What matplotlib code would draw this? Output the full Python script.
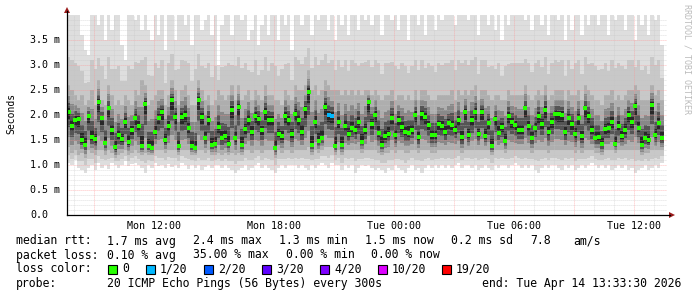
import numpy as np
import matplotlib
matplotlib.use('Agg')
import matplotlib.pyplot as plt
from matplotlib.patches import Rectangle, Polygon
from matplotlib.lines import Line2D

W, H = 697, 297
t0 = 7.65          # hours since Mon 00:00 at the left edge of the plot
step = 1 / 6       # 10 minute columns

median = [2.05, 1.78, 1.9, 1.91, 1.5, 1.41, 1.97, 1.55, 1.51, 2.25, 1.93, 1.45, 2.13, 1.69, 1.35, 1.59, 1.51, 1.86, 1.46, 1.7, 1.93, 1.78, 1.37,
          2.21, 1.38, 1.34, 1.67, 1.94, 2.05, 1.5, 1.78, 2.29, 1.95, 1.37, 1.95, 2.0, 1.73, 1.37, 1.34, 2.3, 1.95, 1.54, 1.9, 1.41, 1.43,
          1.75, 1.54, 1.58, 1.43, 2.1, 1.53, 2.15, 1.41, 1.71, 1.9, 1.67, 1.98, 1.91, 1.69, 2.06, 1.9, 1.89, 1.34, 1.62, 1.57, 1.98, 1.9, 1.62,
          2.02, 1.9, 1.66, 2.11, 2.46, 1.41, 1.85, 1.49, 1.54, 2.15, 1.99, 1.97, 1.38, 1.85, 1.41, 1.78, 1.62, 1.74, 1.69, 1.86, 1.46, 1.69,
          2.26, 1.82, 1.99, 1.65, 1.41, 1.57, 1.63, 1.94, 1.59, 1.9, 1.75, 1.66, 1.65, 1.7, 1.99, 1.55, 2.02, 1.95, 1.79, 1.59, 1.59, 1.81, 1.77,
          1.66, 1.83, 1.79, 1.7, 1.89, 1.55, 2.05, 1.59, 1.89, 2.05, 1.62, 2.05, 1.58, 1.83, 1.38, 1.91, 1.65, 1.75, 1.48, 1.97, 1.85, 1.79,
          1.69, 1.69, 2.13, 1.78, 1.54, 1.74, 1.98, 1.82, 2.1, 1.66, 1.86, 2.02, 2.01, 1.99, 1.66, 1.93, 1.81, 1.61, 1.93, 1.57, 2.13, 1.97, 1.69,
          1.53, 1.55, 1.42, 1.71, 1.73, 1.86, 1.43, 1.78, 1.57, 1.7, 1.99, 1.86, 2.17, 1.74, 1.41, 1.53, 1.5, 2.19, 1.59, 1.83, 1.53]

hi = [4.0, 4.0, 4.0, 4.0, 3.6, 3.3, 3.2, 4.0, 4.0, 3.8, 4.0, 3.5, 4.0, 3.7, 4.0, 4.0, 3.4, 3.1, 4.0, 4.0, 3.9, 4.0, 3.7,
      4.0, 3.7, 3.5, 4.0, 3.6, 4.0, 3.3, 4.0, 4.0, 3.5, 4.0, 4.0, 3.8, 4.0, 3.4, 4.0, 4.0, 3.7, 3.9, 4.0, 3.6, 4.0,
      3.0, 3.8, 4.0, 4.0, 3.6, 4.0, 4.0, 3.9, 4.0, 3.5, 3.7, 4.0, 3.4, 3.8, 4.0, 3.6, 4.0, 4.0, 3.5, 4.0, 3.8, 4.0, 3.3,
      4.0, 4.0, 3.8, 4.0, 4.0, 3.6, 4.0, 3.9, 4.0, 4.0, 3.7, 4.0, 3.5, 4.0, 3.8, 4.0, 3.6, 4.0, 4.0, 3.7, 4.0, 3.9,
      4.0, 3.8, 4.0, 4.0, 3.6, 4.0, 4.0, 3.9, 4.0, 3.7, 4.0, 4.0, 3.5, 4.0, 4.0, 3.8, 4.0, 3.6, 4.0, 4.0, 3.7, 4.0, 3.9,
      4.0, 4.0, 4.0, 3.8, 4.0, 4.0, 4.0, 3.9, 4.0, 4.0, 3.6, 4.0, 4.0, 3.8, 4.0, 3.7, 4.0, 3.5, 4.0, 3.8, 4.0, 4.0,
      4.0, 4.0, 3.9, 4.0, 3.7, 4.0, 4.0, 3.8, 4.0, 3.6, 4.0, 4.0, 3.9, 4.0, 3.5, 4.0, 3.7, 4.0, 4.0, 3.6, 4.0, 3.8, 4.0,
      4.0, 3.8, 4.0, 4.0, 3.6, 4.0, 3.9, 4.0, 4.0, 3.7, 4.0, 4.0, 3.5, 4.0, 3.8, 4.0, 3.6, 4.0, 3.9, 4.0, 3.4]

lo = [1.05, 1.0, 1.1, 0.95, 0.9, 0.85, 0.95, 1.0, 0.9, 1.05, 0.95, 1.0, 0.92, 1.05, 1.0, 0.95, 1.0, 1.08, 0.98, 1.02, 1.05, 1.0, 0.95,
      0.85, 1.0, 0.95, 1.05, 0.98, 1.0, 0.95, 1.02, 0.97, 1.0, 0.95, 1.05, 1.0, 0.92, 1.0, 0.95, 1.0, 0.9, 0.97, 1.0, 0.95, 1.0,
      1.0, 0.95, 1.0, 0.95, 0.9, 0.85, 0.9, 0.95, 1.0, 0.9, 0.95, 1.0, 1.05, 0.95, 1.0, 0.95, 0.9, 0.85, 0.95, 1.0, 0.95, 1.0, 1.0,
      1.0, 0.95, 1.0, 0.95, 0.9, 1.0, 0.95, 1.0, 1.05, 1.0, 0.95, 1.05, 1.0, 1.0, 0.9, 1.0, 0.95, 1.0, 0.85, 0.95, 1.0, 0.98,
      1.0, 0.95, 0.9, 0.95, 0.9, 0.85, 0.95, 0.9, 1.0, 0.95, 0.9, 0.85, 0.95, 1.0, 0.9, 0.95, 0.85, 0.95, 1.0, 0.95, 1.0, 0.95, 1.0,
      0.95, 1.0, 0.95, 1.0, 1.05, 0.95, 1.0, 1.0, 0.95, 1.0, 0.9, 0.95, 1.0, 0.95, 0.9, 1.0, 0.95, 1.0, 1.0, 0.95, 1.0, 1.05,
      1.0, 0.95, 1.0, 0.95, 1.0, 0.9, 0.85, 0.95, 1.0, 0.95, 1.0, 1.0, 0.95, 0.9, 1.0, 0.95, 1.0, 0.9, 0.95, 1.0, 0.95, 1.0, 1.05,
      1.0, 0.95, 1.0, 0.95, 1.0, 0.9, 0.95, 1.0, 0.95, 1.0, 0.9, 0.95, 0.85, 0.9, 0.95, 1.0, 0.9, 0.95, 1.0, 0.95, 1.05]

q3 = [2.6, 2.5, 2.4, 2.3, 2.4, 2.2, 2.3, 2.5, 2.2, 2.7, 2.3, 2.2, 2.6, 2.4, 2.2, 2.3, 2.2, 2.4, 2.3, 2.2, 2.5, 2.4, 2.7,
      2.6, 2.2, 2.3, 2.4, 2.5, 2.5, 2.2, 2.4, 2.7, 2.5, 2.2, 2.5, 2.6, 2.4, 2.2, 2.2, 2.7, 2.5, 2.3, 2.4, 2.2, 2.3,
      2.5, 2.4, 2.3, 2.4, 2.6, 2.3, 2.6, 2.3, 2.4, 2.5, 2.3, 2.5, 2.4, 2.3, 2.6, 2.4, 2.4, 2.3, 2.3, 2.2, 2.5, 2.4, 2.3,
      2.6, 2.5, 2.5, 2.6, 2.9, 2.5, 2.6, 2.4, 2.5, 2.7, 2.6, 2.5, 2.5, 2.5, 2.4, 2.5, 2.4, 2.5, 2.4, 2.5, 2.4, 2.5,
      2.5, 2.4, 2.5, 2.4, 2.3, 2.4, 2.4, 2.5, 2.3, 2.4, 2.4, 2.3, 2.4, 2.3, 2.5, 2.3, 2.5, 2.5, 2.4, 2.3, 2.3, 2.4, 2.4,
      2.4, 2.4, 2.5, 2.3, 2.5, 2.4, 2.5, 2.4, 2.5, 2.6, 2.3, 2.5, 2.5, 2.4, 2.3, 2.4, 2.4, 2.3, 2.3, 2.5, 2.4, 2.4,
      2.4, 2.4, 2.6, 2.4, 2.3, 2.4, 2.5, 2.4, 2.6, 2.3, 2.4, 2.5, 2.5, 2.5, 2.3, 2.5, 2.4, 2.4, 2.5, 2.3, 2.6, 2.5, 2.4,
      2.3, 2.3, 2.2, 2.4, 2.4, 2.5, 2.3, 2.4, 2.3, 2.4, 2.5, 2.5, 2.6, 2.5, 2.3, 2.3, 2.3, 2.6, 2.4, 2.5, 2.3]

q1 = [1.35, 1.25, 1.3, 1.2, 1.25, 1.15, 1.3, 1.25, 1.2, 1.3, 1.3, 1.2, 1.3, 1.25, 1.15, 1.2, 1.25, 1.3, 1.2, 1.25, 1.3, 1.25, 1.2,
      1.25, 1.2, 1.2, 1.3, 1.3, 1.3, 1.25, 1.3, 1.3, 1.3, 1.2, 1.3, 1.3, 1.3, 1.2, 1.2, 1.3, 1.3, 1.25, 1.3, 1.2, 1.2,
      1.25, 1.2, 1.25, 1.2, 1.25, 1.2, 1.25, 1.2, 1.3, 1.3, 1.25, 1.3, 1.3, 1.25, 1.3, 1.3, 1.3, 1.15, 1.3, 1.25, 1.3, 1.3, 1.25,
      1.3, 1.3, 1.3, 1.3, 1.35, 1.2, 1.3, 1.25, 1.3, 1.35, 1.35, 1.35, 1.2, 1.3, 1.2, 1.3, 1.3, 1.3, 1.3, 1.3, 1.25, 1.3,
      1.3, 1.3, 1.3, 1.25, 1.2, 1.25, 1.25, 1.3, 1.25, 1.3, 1.3, 1.25, 1.25, 1.3, 1.3, 1.25, 1.3, 1.3, 1.3, 1.25, 1.25, 1.3, 1.3,
      1.3, 1.3, 1.3, 1.3, 1.3, 1.25, 1.3, 1.3, 1.3, 1.3, 1.3, 1.3, 1.3, 1.3, 1.2, 1.3, 1.3, 1.3, 1.25, 1.3, 1.3, 1.3,
      1.3, 1.3, 1.3, 1.3, 1.25, 1.3, 1.3, 1.3, 1.3, 1.25, 1.3, 1.3, 1.3, 1.3, 1.3, 1.3, 1.3, 1.25, 1.3, 1.25, 1.3, 1.3, 1.3,
      1.25, 1.25, 1.2, 1.3, 1.3, 1.3, 1.25, 1.3, 1.3, 1.3, 1.3, 1.3, 1.3, 1.3, 1.2, 1.25, 1.25, 1.3, 1.3, 1.3, 1.3]

loss_1of20 = [78, 79]   # columns with 1/20 packet loss

x_ticks = [12, 18, 24, 30, 36]
x_labels = ['Mon 12:00', 'Mon 18:00', 'Tue 00:00', 'Tue 06:00', 'Tue 12:00']
y_ticks = [0.0, 0.5, 1.0, 1.5, 2.0, 2.5, 3.0, 3.5]
y_labels = ['0.0', '0.5 m', '1.0 m', '1.5 m', '2.0 m', '2.5 m', '3.0 m', '3.5 m']

loss_names = ['0', '1/20', '2/20', '3/20', '4/20', '10/20', '19/20']
loss_colors = ['#26ff00', '#00b8ff', '#0059ff', '#5e00ff', '#7e00ff', '#dd00ff', '#ff0000']

for arr in (hi, lo, q1, q3):
    assert len(arr) == len(median)

med = np.array(median)
lo = np.minimum(np.array(lo), med)
hi = np.maximum(np.array(hi), med)
q1 = np.minimum(np.array(q1), med)
q3 = np.maximum(np.array(q3), med)
t = t0 + step * (np.arange(len(med)) + 0.5)

MONO = 'DejaVu Sans Mono'
fig = plt.figure(figsize=(W / 100, H / 100), dpi=100)
fig.patch.set_facecolor('white')
ax = fig.add_axes([67 / W, (H - 215) / H, 600 / W, 200 / H])
ax.set_xlim(t0, t0 + 30)
ax.set_ylim(0, 4.0)
ax.axis('off')

# smoke: outer pings light, inner pings dark
bands = [
    (lo, hi, '#dedede'),
    (lo + 0.5 * (q1 - lo), hi - 0.6 * (hi - q3), '#c8c8c8'),
    (q1, q3, '#aeaeae'),
    (med - 0.7 * (med - q1), med + 0.6 * (q3 - med), '#888888'),
    (med - 0.42 * (med - q1), med + 0.34 * (q3 - med), '#555555'),
    (med - 0.2 * (med - q1), med + 0.16 * (q3 - med), '#282828'),
]
for b, top, c in bands:
    ax.bar(t, top - b, bottom=b, width=step, color=c, linewidth=0,
           antialiased=False, zorder=2)

# dotted grid drawn over the graph
dot = (0, (1, 1.4))
for h in np.arange(8, 38):
    if h % 3:
        ax.axvline(h, color='#c4c4c4', lw=0.6, ls=dot, alpha=0.7, zorder=4)
    else:
        ax.axvline(h, color='#ff9090', lw=0.6, ls=dot, alpha=0.75, zorder=5)
for k in range(1, 40):
    v = k / 10
    if k % 5:
        ax.axhline(v, color='#c4c4c4', lw=0.6, ls=dot, alpha=0.7, zorder=4)
    else:
        ax.axhline(v, color='#ff9090', lw=0.6, ls=dot, alpha=0.75, zorder=5)

# median, coloured by loss
ok = [i for i in range(len(med)) if i not in loss_1of20]
ax.plot(t[ok], med[ok], 's', color=loss_colors[0], ms=2.4, mew=0, zorder=6)
ax.plot(t[loss_1of20], med[loss_1of20], 's', color=loss_colors[1], ms=2.4, mew=0, zorder=6)


def fx(px):
    return px / W


def fy(py):
    return 1 - py / H


# axes with arrows
fig.add_artist(Line2D([fx(67), fx(670)], [fy(215), fy(215)], color='black', lw=0.9))
fig.add_artist(Line2D([fx(67), fx(67)], [fy(215), fy(11)], color='black', lw=0.9))
fig.add_artist(Polygon([(fx(675), fy(215)), (fx(669), fy(212)), (fx(669), fy(218))],
                       closed=True, color='#9b1b1b', lw=0))
fig.add_artist(Polygon([(fx(67), fy(7)), (fx(64), fy(13)), (fx(70), fy(13))],
                       closed=True, color='#9b1b1b', lw=0))

# tick labels
for v, s in zip(y_ticks, y_labels):
    fig.text(fx(30), fy(215 - v * 50), s, family=MONO, fontsize=7.2,
             ha='left', va='center')
for h, s in zip(x_ticks, x_labels):
    fig.text(fx(67 + (h - t0) * 20), fy(226), s, family=MONO, fontsize=7.2,
             ha='center', va='center')

fig.text(fx(11), fy(113), 'Seconds', family=MONO, fontsize=7.0, rotation=90,
         ha='center', va='center')
fig.text(fx(687), fy(4), 'RRDTOOL / TOBI OETIKER', family=MONO, fontsize=6.0,
         rotation=270, ha='center', va='top', color='#bbbbbb')

# legend
fs = 8.3
rows = [
    (241, [(16, 'median rtt:'), (107, '1.7 ms avg'), (193, '2.4 ms max'), (279, '1.3 ms min'),
           (365, '1.5 ms now'), (451, '0.2 ms sd'), (530, '7.8'), (573, 'am/s')]),
    (255, [(16, 'packet loss:'), (107, '0.10 % avg'), (193, '35.00 % max'), (286, '0.00 % min'),
           (371, '0.00 % now')]),
    (269, [(16, 'loss color:')]),
    (283, [(16, 'probe:'), (107, '20 ICMP Echo Pings (56 Bytes) every 300s')]),
]
for y, items in rows:
    for x, s in items:
        fig.text(fx(x), fy(y), s, family=MONO, fontsize=fs, ha='left', va='center')
fig.text(fx(681), fy(283), 'end: Tue Apr 14 13:33:30 2026', family=MONO, fontsize=fs,
         ha='right', va='center')

box_x = [108, 146, 204, 262, 320, 378, 442]
for bx, name, c in zip(box_x, loss_names, loss_colors):
    fig.add_artist(Rectangle((fx(bx), fy(274)), 9 / W, 9 / H, facecolor=c,
                             edgecolor='black', lw=0.8))
    fig.text(fx(bx + 14), fy(269), name, family=MONO, fontsize=fs, ha='left', va='center')

fig.savefig('out.png', dpi=100, facecolor='white')
